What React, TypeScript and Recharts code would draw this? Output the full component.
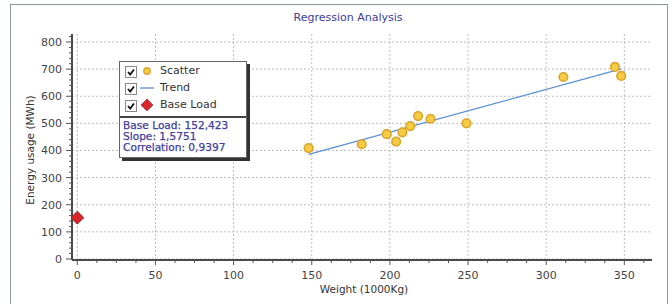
import { CartesianGrid, Legend, Scatter, ScatterChart, XAxis, YAxis } from 'recharts';

const weights = [148, 182, 198, 204, 208, 213, 218, 226, 249, 311, 344, 348];
const energy = [409, 423, 460, 433, 467, 490, 527, 517, 500, 671, 708, 675];

const baseLoad = 152.423;
const slope = 1.5751;
const correlation = 0.9397;

const xTicks = [0, 50, 100, 150, 200, 250, 300, 350];
const yTicks = [0, 100, 200, 300, 400, 500, 600, 700, 800];
const xDomain = [-3.4, 367.7];
const yDomain = [-3.7, 829.5];

const seriesNames = ['Scatter', 'Trend', 'Base Load'];

const scatterData = weights.map((w, i) => ({ x: w, y: energy[i] }));
const minX = Math.min(...weights);
const maxX = Math.max(...weights);
const trendData = [
  { x: minX, y: baseLoad + slope * minX },
  { x: maxX, y: baseLoad + slope * maxX },
];
const baseData = [{ x: 0, y: baseLoad }];

// minor tick steps
const xMinor: number[] = [];
for (let v = 0; v <= 362.5; v += 12.5) xMinor.push(v);
const yMinor: number[] = [];
for (let v = 0; v <= 820; v += 20) yMinor.push(v);

const font = '"DejaVu Sans", Verdana, sans-serif';
const fmt = (v: number, d: number) => v.toFixed(d).replace('.', ',');

const XTick = (props: any) => {
  const { x, y, payload } = props;
  const major = xTicks.includes(payload.value);
  return (
    <g>
      <line x1={x} x2={x} y1={y} y2={y + (major ? 5 : 3)} stroke='#555' strokeWidth={1} />
      {major && (
        <text x={x} y={y + 19} textAnchor='middle' fontSize={11} fill='#444' fontFamily={font}>
          {payload.value}
        </text>
      )}
    </g>
  );
};

const YTick = (props: any) => {
  const { x, y, payload } = props;
  const major = yTicks.includes(payload.value);
  return (
    <g>
      <line x1={x} x2={x - (major ? 6 : 3)} y1={y} y2={y} stroke='#555' strokeWidth={1} />
      {major && (
        <text x={x - 10} y={y + 4} textAnchor='end' fontSize={11} fill='#444' fontFamily={font}>
          {payload.value}
        </text>
      )}
    </g>
  );
};

const Dot = (props: any) => (
  <circle cx={props.cx} cy={props.cy} r={4.3} fill='#f6cc45' stroke='#dca42a' strokeWidth={1.6} />
);

const Diamond = (props: any) => {
  const { cx, cy } = props;
  const r = 6.5;
  return (
    <polygon
      points={`${cx},${cy - r} ${cx + r},${cy} ${cx},${cy + r} ${cx - r},${cy}`}
      fill='#d8262a'
      stroke='#7c1a1a'
      strokeWidth={0.8}
    />
  );
};

const Check = () => (
  <div
    style={{
      position: 'absolute',
      left: 5,
      top: -5.5,
      width: 10,
      height: 10,
      border: '1px solid #8a8a8a',
      background: '#fff',
    }}
  >
    <svg width={10} height={10} style={{ position: 'absolute', left: 0, top: 0 }}>
      <path d='M2 5 L4.2 7.5 L8 2.5' fill='none' stroke='#111' strokeWidth={1.8} />
    </svg>
  </div>
);

const LegendBox = () => (
  <div
    style={{
      position: 'relative',
      width: 126,
      height: 95,
      border: '1px solid #666',
      background: '#fff',
      boxShadow: '3px 3px 0 #333',
      fontFamily: font,
    }}
  >
    {seriesNames.map((name, i) => (
      <div key={name} style={{ position: 'absolute', left: 0, top: 9 + i * 17, width: '100%' }}>
        <Check />
        <svg width={16} height={14} style={{ position: 'absolute', left: 19, top: -7 }}>
          {i === 0 && <circle cx={8} cy={7} r={3.2} fill='#f6cc45' stroke='#dca42a' strokeWidth={1.4} />}
          {i === 1 && <line x1={1} x2={15} y1={7} y2={7} stroke='#5b8fd0' strokeWidth={1.3} />}
          {i === 2 && <polygon points='8,1 14,7 8,13 2,7' fill='#d8262a' stroke='#7c1a1a' strokeWidth={0.6} />}
        </svg>
        <span
          style={{ position: 'absolute', left: 40, top: -8, fontSize: 11, color: '#333', lineHeight: '16px', whiteSpace: 'nowrap' }}
        >
          {name}
        </span>
      </div>
    ))}
    <div style={{ position: 'absolute', left: 0, top: 54, width: '100%', height: 2, background: '#444' }} />
    <div
      style={{
        position: 'absolute',
        left: 3,
        top: 57.5,
        fontSize: 10.6,
        lineHeight: '11px',
        color: '#40409e',
        whiteSpace: 'nowrap',
        WebkitTextStroke: '0.25px #40409e',
      }}
    >
      <div style={{ height: 11 }}>Base Load: {fmt(baseLoad, 3)}</div>
      <div style={{ height: 11 }}>Slope: {fmt(slope, 4)}</div>
      <div style={{ height: 11 }}>Correlation: {fmt(correlation, 4)}</div>
    </div>
  </div>
);

export default function App() {
  return (
    <div style={{ position: 'absolute', left: 0, top: 0, width: 672, height: 304, overflow: 'hidden', background: '#fff' }}>
      <div
        style={{
          position: 'absolute',
          left: 10,
          top: 3.5,
          width: 656,
          height: 330,
          border: '1.5px solid #8e979e',
        }}
      />
      <div
        style={{
          position: 'absolute',
          left: 348,
          top: 11,
          transform: 'translateX(-50%)',
          fontFamily: font,
          fontSize: 11,
          color: '#3c3c9c',
          whiteSpace: 'nowrap',
        }}
      >
        Regression Analysis
      </div>
      <div
        style={{
          position: 'absolute',
          left: 30,
          top: 150,
          transform: 'translate(-50%, -50%) rotate(-90deg)',
          fontFamily: font,
          fontSize: 10.5,
          color: '#333',
          whiteSpace: 'nowrap',
        }}
      >
        Energy usage (MWh)
      </div>
      <div
        style={{
          position: 'absolute',
          left: 364,
          top: 283,
          transform: 'translateX(-50%)',
          fontFamily: font,
          fontSize: 10.5,
          color: '#333',
          whiteSpace: 'nowrap',
        }}
      >
        Weight (1000Kg)
      </div>
      <ScatterChart width={672} height={304} margin={{ top: 34, right: 20, bottom: 14, left: 32 }} style={{ position: 'absolute', left: 0, top: 0 }}>
        <CartesianGrid
          stroke='#bdbdbd'
          strokeDasharray='2 2'
          verticalValues={xTicks}
          horizontalValues={yTicks}
        />
        <XAxis
          xAxisId='top'
          orientation='top'
          type='number'
          dataKey='x'
          domain={xDomain}
          ticks={xTicks}
          allowDataOverflow
          height={0}
          tick={false}
          tickLine={false}
          axisLine={{ stroke: '#8c8c8c', strokeWidth: 2 }}
        />
        <YAxis
          yAxisId='right'
          orientation='right'
          type='number'
          dataKey='y'
          domain={yDomain}
          ticks={yTicks}
          allowDataOverflow
          width={0}
          tick={false}
          tickLine={false}
          axisLine={{ stroke: '#8c8c8c', strokeWidth: 2 }}
        />
        <XAxis
          type='number'
          dataKey='x'
          domain={xDomain}
          ticks={xMinor}
          interval={0}
          allowDataOverflow
          height={30}
          tickSize={0}
          tickMargin={0}
          tickLine={false}
          tick={<XTick />}
          axisLine={{ stroke: '#4a4a4a', strokeWidth: 2 }}
        />
        <YAxis
          type='number'
          dataKey='y'
          domain={yDomain}
          ticks={yMinor}
          interval={0}
          allowDataOverflow
          width={40}
          tickSize={0}
          tickMargin={0}
          tickLine={false}
          tick={<YTick />}
          axisLine={{ stroke: '#4a4a4a', strokeWidth: 2 }}
        />
        <Scatter
          name={seriesNames[1]}
          data={trendData}
          line={{ stroke: '#5b8fd0', strokeWidth: 1.3 }}
          shape={() => <g />}
          isAnimationActive={false}
        />
        <Scatter name={seriesNames[0]} data={scatterData} shape={<Dot />} isAnimationActive={false} />
        <Scatter name={seriesNames[2]} data={baseData} shape={<Diamond />} isAnimationActive={false} />
        <Legend
          layout='vertical'
          align='center'
          verticalAlign='middle'
          content={() => <LegendBox />}
          wrapperStyle={{ left: 119, top: 61, width: 127, height: 96 }}
        />
      </ScatterChart>
    </div>
  );
}
